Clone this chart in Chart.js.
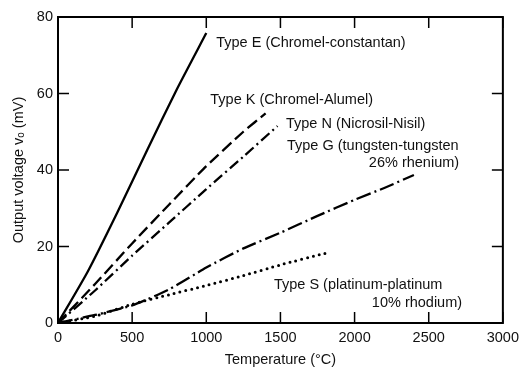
<!DOCTYPE html>
<html>
<head>
<meta charset="utf-8">
<script src="https://cdn.jsdelivr.net/npm/chart.js@4.4.1/dist/chart.umd.min.js"></script>
<style>
  html, body { margin: 0; padding: 0; background: #fff; }
  #wrap { width: 525px; height: 369px; }
</style>
</head>
<body>
<div id="wrap"><canvas id="thermoChart" width="525" height="369"></canvas></div>
<script>
// Temperature (deg C) and output voltage (mV)
const typeE_temp = [0, 200, 400, 600, 800, 1000];
const typeE_mv = [0, 13.4, 28.9, 45.1, 61.0, 75.8];

const typeK_temp = [0, 250, 500, 750, 1000, 1250, 1400];
const typeK_mv = [0, 10.2, 20.8, 31.0, 41.0, 50.0, 54.8];

const typeN_temp = [0, 250, 500, 750, 1000, 1250, 1480];
const typeN_mv = [0, 8.5, 17.6, 26.3, 35.0, 43.5, 51.5];

const typeG_temp = [0, 250, 500, 750, 1000, 1250, 1500, 1750, 2000, 2200, 2400];
const typeG_mv = [0, 2.1, 4.6, 8.8, 14.5, 19.5, 23.6, 28.0, 32.2, 35.3, 38.7];

const typeS_temp = [0, 250, 500, 750, 1000, 1250, 1500, 1800];
const typeS_mv = [0, 1.8, 4.9, 7.4, 9.8, 12.4, 15.2, 18.2];

const xTicks = [0, 500, 1000, 1500, 2000, 2500, 3000];
const yTicks = [0, 20, 40, 60, 80];

// curve labels, placed in data units
const labelText = [
    'Type E (Chromel-constantan)',
    'Type K (Chromel-Alumel)',
    'Type N (Nicrosil-Nisil)',
    'Type G (tungsten-tungsten',
    '26% rhenium)',
    'Type S (platinum-platinum',
    '10% rhodium)'
];
const labelX = [1067, 1027, 1537, 1544, 2705, 1456, 2725];
const labelY = [73.2, 58.3, 52.0, 46.3, 41.8, 9.9, 5.2];
const labelAlign = ['left', 'left', 'left', 'left', 'right', 'left', 'right'];

const FONT = '"Liberation Sans", Arial, sans-serif';
const FONT_SIZE = 14.5;

function toPoints(xs, ys) {
    return xs.map((x, i) => ({ x: x, y: ys[i] }));
}

function lineSet(label, xs, ys, dash, cap, width) {
    return {
        label: label,
        data: toPoints(xs, ys),
        borderColor: '#000',
        borderWidth: width || 2.3,
        borderDash: dash,
        borderCapStyle: cap || 'butt',
        pointRadius: 0,
        tension: 0.2,
        fill: false
    };
}

// draws the frame, the inward ticks on all four sides and the curve labels
const framePlugin = {
    id: 'frame',
    afterDraw(chart) {
        const ctx = chart.ctx;
        const area = chart.chartArea;
        const xs = chart.scales.x;
        const ys = chart.scales.y;
        ctx.save();
        ctx.strokeStyle = '#000';
        ctx.lineWidth = 2;
        ctx.strokeRect(area.left, area.top, area.right - area.left, area.bottom - area.top);

        const len = 11;
        ctx.lineWidth = 1.5;
        ctx.beginPath();
        xTicks.forEach(v => {
            const px = xs.getPixelForValue(v);
            ctx.moveTo(px, area.bottom);
            ctx.lineTo(px, area.bottom - len);
            ctx.moveTo(px, area.top);
            ctx.lineTo(px, area.top + len);
        });
        yTicks.forEach(v => {
            const py = ys.getPixelForValue(v);
            ctx.moveTo(area.left, py);
            ctx.lineTo(area.left + len, py);
            ctx.moveTo(area.right, py);
            ctx.lineTo(area.right - len, py);
        });
        ctx.stroke();

        ctx.fillStyle = '#111';
        ctx.font = FONT_SIZE + 'px ' + FONT;
        ctx.textBaseline = 'middle';
        labelText.forEach((t, i) => {
            ctx.textAlign = labelAlign[i];
            ctx.fillText(t, xs.getPixelForValue(labelX[i]), ys.getPixelForValue(labelY[i]));
        });
        ctx.restore();
    }
};

const ctx = document.getElementById('thermoChart');

new Chart(ctx, {
    type: 'line',
    data: {
        datasets: [
            lineSet('Type E', typeE_temp, typeE_mv, []),
            lineSet('Type K', typeK_temp, typeK_mv, [12, 5]),
            lineSet('Type N', typeN_temp, typeN_mv, [11, 4, 2, 4]),
            lineSet('Type G', typeG_temp, typeG_mv, [15, 4, 2, 4]),
            lineSet('Type S', typeS_temp, typeS_mv, [0, 6], 'round', 3)
        ]
    },
    options: {
        responsive: false,
        animation: false,
        layout: { padding: { top: 17, right: 18, left: 0, bottom: 0 } },
        plugins: {
            legend: { display: false },
            tooltip: { enabled: false }
        },
        scales: {
            x: {
                type: 'linear',
                min: 0,
                max: 3000,
                afterFit: function(scale) { scale.height = 46; },
                afterBuildTicks: function(scale) { scale.ticks = xTicks.map(v => ({ value: v })); },
                grid: { display: false, drawTicks: false },
                border: { display: false },
                ticks: {
                    color: '#111',
                    padding: 6,
                    font: { family: FONT, size: FONT_SIZE },
                    maxRotation: 0,
                    callback: function(value) { return String(value); }
                },
                title: {
                    display: true,
                    text: 'Temperature (°C)',
                    color: '#111',
                    font: { family: FONT, size: FONT_SIZE },
                    padding: { top: 2, bottom: 0 }
                }
            },
            y: {
                type: 'linear',
                min: 0,
                max: 80,
                afterFit: function(scale) { scale.width = 58; },
                afterBuildTicks: function(scale) { scale.ticks = yTicks.map(v => ({ value: v })); },
                grid: { display: false, drawTicks: false },
                border: { display: false },
                ticks: {
                    color: '#111',
                    padding: 5,
                    font: { family: FONT, size: FONT_SIZE },
                    callback: function(value) { return String(value); }
                },
                title: {
                    display: true,
                    text: 'Output voltage vₒ (mV)',
                    color: '#111',
                    font: { family: FONT, size: FONT_SIZE },
                    padding: { top: 10, bottom: 0 }
                }
            }
        }
    },
    plugins: [framePlugin]
});
</script>
</body>
</html>
